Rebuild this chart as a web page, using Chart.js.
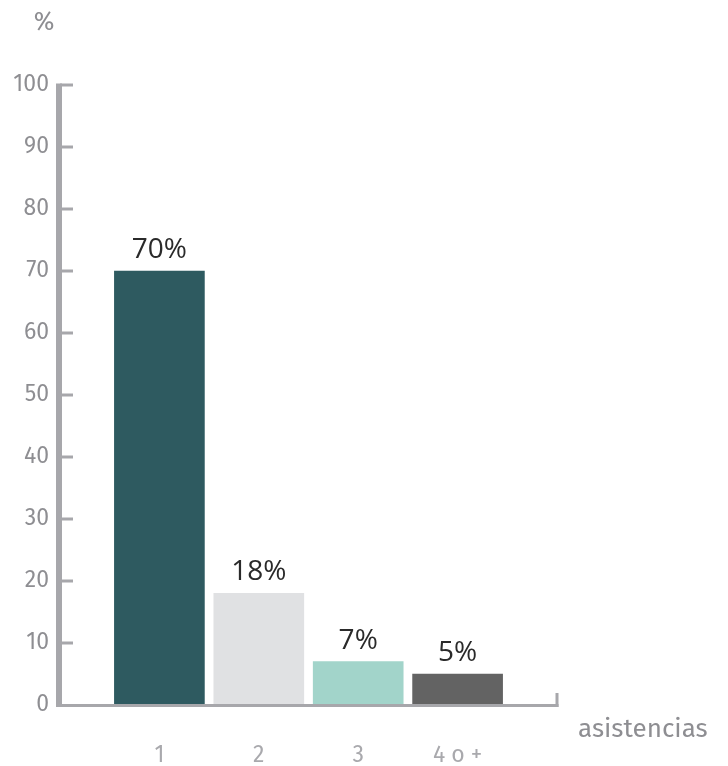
<!DOCTYPE html>
<html>
<head>
<meta charset="utf-8">
<script src="https://cdn.jsdelivr.net/npm/chart.js@4/dist/chart.umd.min.js"></script>
<style>
    html, body { margin: 0; padding: 0; background: #fff; }
    #wrap { position: relative; width: 728px; height: 766px; }
</style>
</head>
<body>
<div id="wrap"><canvas id="chart" width="728" height="766"></canvas></div>
<script>
// Data
const categories = ['1', '2', '3', '4 o +'];
const positions = [1, 2, 3, 4];
const values = [70, 18, 7, 5];
const barColors = ['#2e5a60', '#e0e1e3', '#a2d4ca', '#636363'];
const yTicks = [0, 10, 20, 30, 40, 50, 60, 70, 80, 90, 100];

const FONT = '"Fira Sans", "Noto Sans", "Open Sans", sans-serif';
const LABEL_FONT = '"Open Sans", "Noto Sans", sans-serif';
const AXIS_COLOR = '#a7a7ab';

/**
 * Draws the axis lines, inner ticks, value labels and axis titles
 */
const decorPlugin = {
    id: 'decor',
    afterDatasetsDraw(chart) {
        const ctx = chart.ctx;
        const x = chart.scales.x;
        const y = chart.scales.y;
        const left = x.getPixelForValue(0);
        const right = x.getPixelForValue(5);
        const base = y.getPixelForValue(0);

        ctx.save();
        ctx.strokeStyle = AXIS_COLOR;

        // y axis line
        ctx.lineWidth = 6;
        ctx.beginPath();
        ctx.moveTo(left - 1, y.getPixelForValue(100) - 1.5);
        ctx.lineTo(left - 1, base + 2);
        ctx.stroke();

        // inner ticks
        ctx.lineWidth = 3;
        yTicks.forEach(v => {
            if (v === 0) return;
            const py = y.getPixelForValue(v);
            ctx.beginPath();
            ctx.moveTo(left, py);
            ctx.lineTo(left + 13, py);
            ctx.stroke();
        });

        // x axis line + end tick
        ctx.beginPath();
        ctx.moveTo(left, base + 0.5);
        ctx.lineTo(right + 1.5, base + 0.5);
        ctx.stroke();
        ctx.beginPath();
        ctx.moveTo(right, base + 2);
        ctx.lineTo(right, base - 12);
        ctx.stroke();

        // value labels
        const meta = chart.getDatasetMeta(0);
        ctx.fillStyle = '#2a2a2a';
        ctx.font = '28px ' + LABEL_FONT;
        ctx.textAlign = 'center';
        ctx.textBaseline = 'alphabetic';
        meta.data.forEach((bar, i) => {
            ctx.fillText(values[i] + '%', bar.x, bar.y - 13);
        });

        // axis titles
        ctx.fillStyle = '#8e8e92';
        ctx.font = '25px ' + FONT;
        ctx.textAlign = 'center';
        ctx.fillText('%', 44, 30);
        ctx.font = '26px ' + FONT;
        ctx.textAlign = 'left';
        ctx.fillText('asistencias', 578, 737);
        ctx.restore();
    }
};

new Chart(document.getElementById('chart'), {
    type: 'bar',
    data: {
        datasets: [{
            data: positions.map((p, i) => ({ x: p, y: values[i] })),
            backgroundColor: barColors,
            borderWidth: 0,
            barThickness: 90
        }]
    },
    options: {
        responsive: false,
        animation: false,
        layout: { padding: { top: 85, right: 171, left: 0, bottom: 0 } },
        plugins: { legend: { display: false }, tooltip: { enabled: false } },
        scales: {
            x: {
                type: 'linear',
                min: 0,
                max: 5,
                offset: false,
                border: { display: false },
                grid: { display: false, drawTicks: false },
                afterFit(scale) { scale.height = 61; },
                afterBuildTicks(scale) {
                    scale.ticks = positions.map(v => ({ value: v }));
                },
                ticks: {
                    padding: 37,
                    color: '#a9a9ad',
                    font: { size: 23, family: FONT },
                    callback: v => categories[positions.indexOf(v)] || ''
                }
            },
            y: {
                min: 0,
                max: 100,
                border: { display: false },
                grid: { display: false, drawTicks: false },
                afterFit(scale) { scale.width = 60; },
                afterBuildTicks(scale) {
                    scale.ticks = yTicks.map(v => ({ value: v }));
                },
                ticks: {
                    padding: 11,
                    color: '#8e8e92',
                    font: { size: 23, family: FONT }
                }
            }
        }
    },
    plugins: [decorPlugin]
});
</script>
</body>
</html>
